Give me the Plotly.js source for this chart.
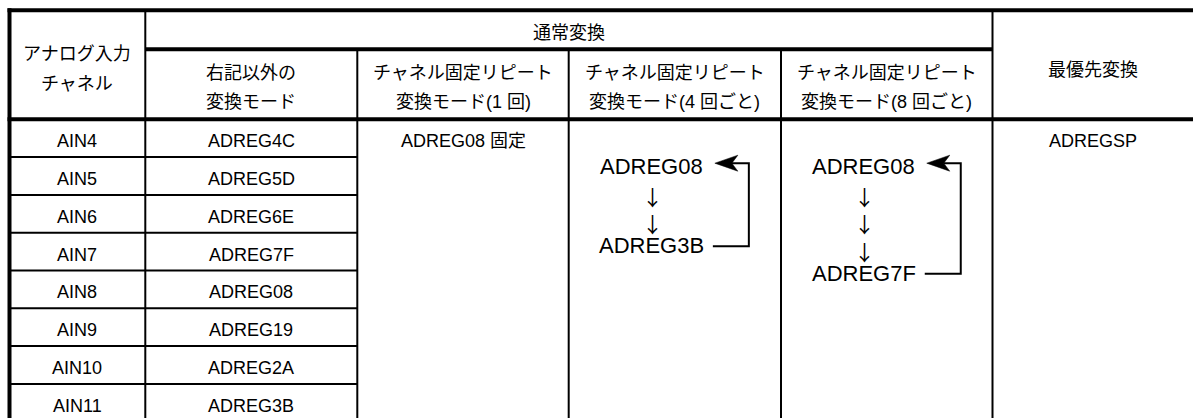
<!DOCTYPE html>
<html>
<head>
<meta charset="utf-8">
<script src="https://cdn.plot.ly/plotly-3.0.1.min.js"></script>
<style>html,body{margin:0;padding:0;background:#fff;}#chart{width:1193px;height:418px;}</style>
</head>
<body>
<div id="chart"></div>
<script>
// ---- data ----
const headerChannel = ['アナログ入力', 'チャネル'];
const headerGroup = '通常変換';
const modeHeaderLine1 = ['右記以外の', 'チャネル固定リピート', 'チャネル固定リピート', 'チャネル固定リピート'];
const modeHeaderLine2 = ['変換モード', '変換モード(1 回)', '変換モード(4 回ごと)', '変換モード(8 回ごと)'];
const headerPriority = '最優先変換';
const channels = ['AIN4', 'AIN5', 'AIN6', 'AIN7', 'AIN8', 'AIN9', 'AIN10', 'AIN11'];
const registers = ['ADREG4C', 'ADREG5D', 'ADREG6E', 'ADREG7F', 'ADREG08', 'ADREG19', 'ADREG2A', 'ADREG3B'];
const fixedOnce = 'ADREG08 固定';
const cycle4Regs = ['ADREG08', 'ADREG3B'];
const cycle4Steps = 2;
const cycle8Regs = ['ADREG08', 'ADREG7F'];
const cycle8Steps = 3;
const priorityReg = 'ADREGSP';
const stepGlyph = '↓';

// ---- layout geometry ----
const W = 1193, H = 418;
const colEdges = [9.5, 145.3, 357.3, 568.7, 781, 992.5, 1193];
const yTop = 10.3, ySub = 49.3, yHead = 119.3, rowH = 37.8;
const thick = 4, thin = 2;
const FONT = 'Liberation Sans, Arial, Noto Sans CJK JP, sans-serif';
const ink = '#000';

const shapes = [];
const ann = [];
function line(x0, y0, x1, y1, w) {
  shapes.push({type: 'line', xref: 'x', yref: 'y', x0: x0, y0: y0, x1: x1, y1: y1, line: {color: ink, width: w}});
}
function txt(x, y, s, size, family) {
  ann.push({xref: 'x', yref: 'y', x: x, y: y, text: s, showarrow: false, xanchor: 'center', yanchor: 'middle',
    font: {family: family || FONT, size: size || 18, color: ink}});
}
const cc = i => (colEdges[i] + colEdges[i + 1]) / 2;

// borders and grid
const bottom = H + 10;
line(colEdges[0] - 2, yTop, W + 5, yTop, thick);
line(colEdges[0], yTop - 2, colEdges[0], bottom, thick);
line(colEdges[1], ySub, colEdges[5], ySub, thick);
line(colEdges[0] - 2, yHead, W + 5, yHead, thick);
line(colEdges[1], yTop, colEdges[1], bottom, thin);
line(colEdges[5], yTop, colEdges[5], bottom, thin);
for (let i = 2; i <= 4; i++) line(colEdges[i], ySub, colEdges[i], bottom, thin);
for (let r = 1; r < channels.length; r++) {
  const y = yHead + rowH * r;
  line(colEdges[0], y, colEdges[2], y, thin);
}

// header text
txt(cc(0), 53.5, headerChannel[0]);
txt(cc(0), 84, headerChannel[1]);
txt((colEdges[1] + colEdges[5]) / 2, 33, headerGroup);
for (let i = 0; i < 4; i++) {
  txt(cc(i + 1), 72.5, modeHeaderLine1[i]);
  txt(cc(i + 1), 101.5, modeHeaderLine2[i]);
}
txt(cc(5), 70, headerPriority);

// body rows
const textOff = 3;
channels.forEach((c, r) => {
  const y = yHead + rowH * (r + 0.5) + textOff;
  txt(cc(0), y, c);
  txt(cc(1), y, registers[r]);
});
const y0row = yHead + rowH * 0.5 + textOff;
txt(cc(2), y0row, fixedOnce);
txt(cc(5), y0row, priorityReg);

// repeat cycles
function cycle(col, regs, steps) {
  const cx = cc(col) - 23;
  const yStart = 166.5;
  txt(cx, yStart, regs[0], 22);
  let y = yStart;
  for (let k = 0; k < steps; k++) {
    y = yStart + 29 + 27.5 * k;
    txt(cx + 1, y, stepGlyph, 21, 'Noto Sans CJK JP');
  }
  const yEnd = y + 22.5;
  txt(cx, yEnd, regs[1], 22);
  const xs = cx + 61, xv = cx + 97, xt = cx + 63, yt = yStart - 3.3;
  const hl = 23, hw = 8, notch = 6;
  shapes.push({type: 'path', xref: 'x', yref: 'y',
    path: `M ${xs},${yEnd + 0.7} L ${xv},${yEnd + 0.7} L ${xv},${yt} L ${xt + hl - notch},${yt}`,
    line: {color: ink, width: 2}});
  shapes.push({type: 'path', xref: 'x', yref: 'y',
    path: `M ${xt},${yt} L ${xt + hl},${yt - hw} L ${xt + hl - notch},${yt} L ${xt + hl},${yt + hw} Z`,
    fillcolor: ink, line: {color: ink, width: 0.5}});
}
cycle(3, cycle4Regs, cycle4Steps);
cycle(4, cycle8Regs, cycle8Steps);

const layout = {
  width: W, height: H,
  margin: {l: 0, r: 0, t: 0, b: 0, pad: 0},
  paper_bgcolor: '#fff', plot_bgcolor: '#fff',
  xaxis: {range: [0, W], visible: false, fixedrange: true},
  yaxis: {range: [H, 0], visible: false, fixedrange: true},
  showlegend: false,
  shapes: shapes,
  annotations: ann
};
Plotly.newPlot('chart', [], layout, {displayModeBar: false, staticPlot: true});
</script>
</body>
</html>
